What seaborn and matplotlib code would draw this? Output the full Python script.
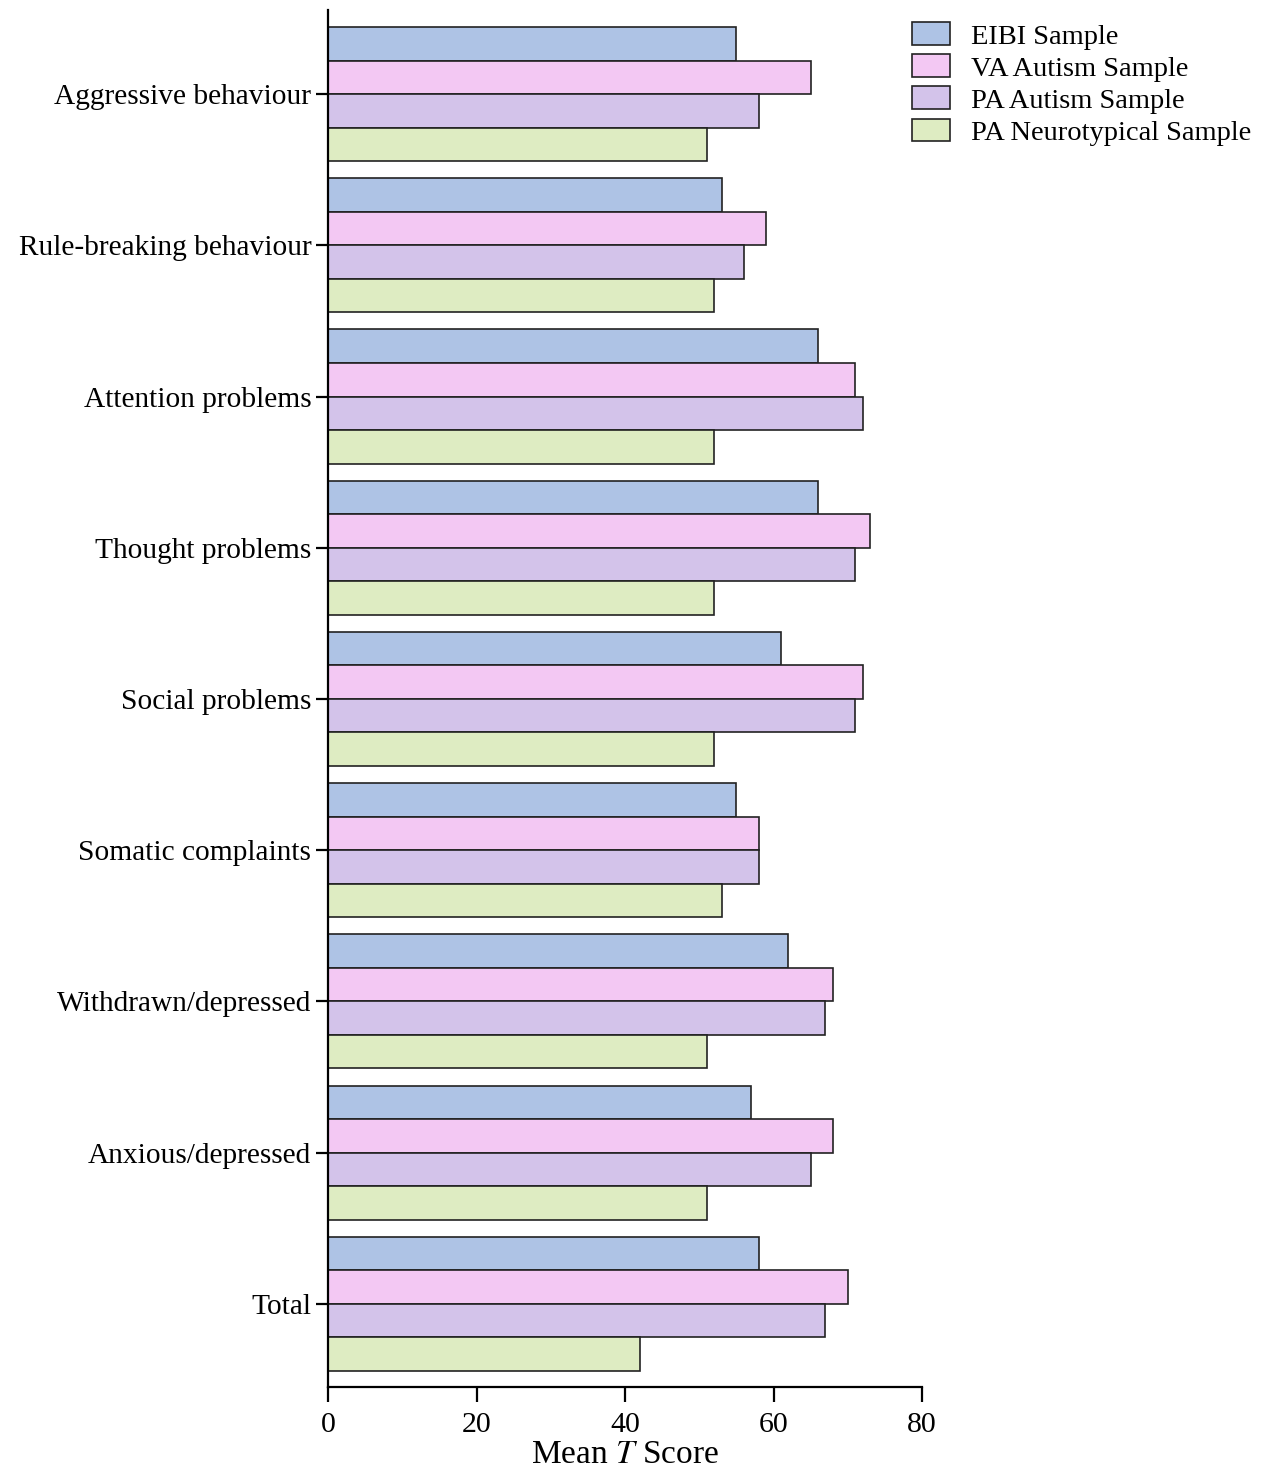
import numpy as np
import pandas as pd
import matplotlib
matplotlib.use("Agg")
import matplotlib.pyplot as plt
import seaborn as sns

categories = ["Aggressive behaviour", "Rule-breaking behaviour", "Attention problems",
              "Thought problems", "Social problems", "Somatic complaints",
              "Withdrawn/depressed", "Anxious/depressed", "Total"]
series = ["EIBI Sample", "VA Autism Sample", "PA Autism Sample", "PA Neurotypical Sample"]
eibi = [55, 53, 66, 66, 61, 55, 62, 57, 58]
va_autism = [65, 59, 71, 73, 72, 58, 68, 68, 70]
pa_autism = [58, 56, 72, 71, 71, 58, 67, 65, 67]
pa_neuro = [51, 52, 52, 52, 52, 53, 51, 51, 42]
colors = ["#aec3e5", "#f3c8f3", "#d3c3ea", "#deecc2"]
x_ticks = [0, 20, 40, 60, 80]

sns.set_style("ticks")
plt.rcParams['font.family'] = ['Liberation Serif', 'DejaVu Serif']
plt.rcParams['mathtext.fontset'] = 'stix'
plt.rcParams['text.color'] = 'black'
plt.rcParams['axes.labelcolor'] = 'black'

rows = []
for s, vals in zip(series, [eibi, va_autism, pa_autism, pa_neuro]):
    for c, v in zip(categories, vals):
        rows.append({"Category": c, "Sample": s, "Score": v})
df = pd.DataFrame(rows)

fig = plt.figure(figsize=(12.63, 14.67), dpi=100)
ax = fig.add_axes([328/1263, 1-1387/1467, (922-328)/1263, (1387-10)/1467])

sns.barplot(data=df, y="Category", x="Score", hue="Sample", order=categories,
            hue_order=series, palette=colors, orient="h", width=0.887,
            edgecolor="#222222", linewidth=1.2, saturation=1, ax=ax, legend=True, errorbar=None)

ax.set_xlim(0, 80)
ax.set_ylim(8.55, -0.556)
ax.set_xticks(x_ticks)
ax.set_xticklabels([str(t) for t in x_ticks], fontsize=21.5)
ax.set_yticklabels(categories, fontsize=21.2)
ax.set_ylabel("")
ax.set_xlabel("Mean $T$ Score", fontsize=24, labelpad=1)
for side in ["top", "right"]:
    ax.spines[side].set_visible(False)
for side in ["left", "bottom"]:
    ax.spines[side].set_linewidth(1.6)
    ax.spines[side].set_color("black")
ax.tick_params(axis="x", length=11, width=1.6, pad=7, colors="black", labelcolor="black")
ax.tick_params(axis="y", length=9, width=1.6, pad=3, colors="black", labelcolor="black")

handles, labels = ax.get_legend_handles_labels()
ax.get_legend().remove()
fig.legend(handles, labels, loc="upper left", bbox_to_anchor=(901/1263, 1-11/1467),
           frameon=False, fontsize=20.5, handlelength=1.32, handleheight=0.85,
           handletextpad=0.75, labelspacing=0.17, borderaxespad=0, labelcolor="black")

fig.savefig("out.png", dpi=100)
